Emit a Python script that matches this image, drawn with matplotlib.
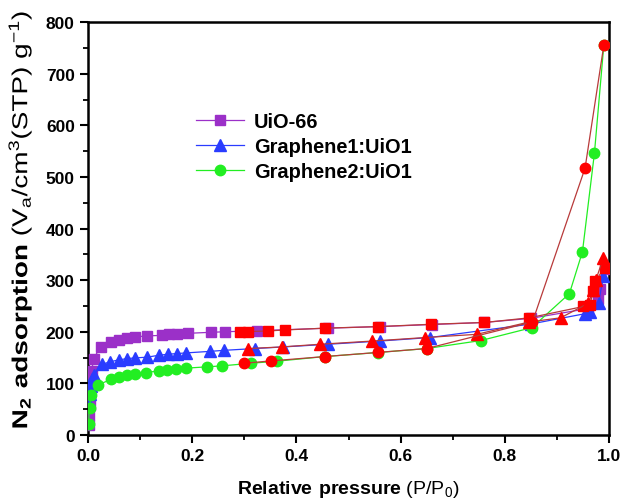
import matplotlib
matplotlib.use("Agg")
import matplotlib.pyplot as plt
from matplotlib.ticker import MultipleLocator
from matplotlib.textpath import TextPath
from matplotlib.patches import PathPatch
from matplotlib.font_manager import FontProperties
from matplotlib.transforms import Affine2D

plt.rcParams["font.family"] = "Liberation Sans"
plt.rcParams["mathtext.fontset"] = "custom"
plt.rcParams["mathtext.rm"] = "Liberation Sans"
plt.rcParams["mathtext.bf"] = "Liberation Sans:bold"

# UiO-66 isotherm (adsorption / desorption)
uio_ads_p = [0.001, 0.002, 0.003, 0.004, 0.005, 0.007, 0.011, 0.024, 0.045, 0.059,
             0.075, 0.091, 0.113, 0.142, 0.156, 0.171, 0.192, 0.237, 0.263, 0.324,
             0.461, 0.56, 0.66, 0.76, 0.85, 0.96, 0.979, 0.983, 0.996]
uio_ads_v = [20, 38, 58, 80, 102, 124, 148, 171, 181, 185,
             188, 190, 192, 193, 195, 196, 197, 199, 200, 202,
             207, 210, 214, 218, 226, 245, 263, 282, 321]
uio_des_p = [0.992, 0.973, 0.97, 0.963, 0.951, 0.847, 0.761, 0.658, 0.557, 0.455,
             0.378, 0.346, 0.308, 0.292]
uio_des_v = [324, 298, 279, 251, 249, 227, 218, 214.5, 210, 207,
             203.5, 201.6, 200.4, 199.7]

# Graphene1:UiO1
g1_ads_p = [0.001, 0.003, 0.005, 0.008, 0.012, 0.027, 0.043, 0.059, 0.075, 0.091,
            0.113, 0.137, 0.154, 0.171, 0.188, 0.234, 0.261, 0.32, 0.375, 0.461,
            0.56, 0.656, 0.85, 0.954, 0.963, 0.98, 0.989]
g1_ads_v = [60, 80, 95, 108, 117, 137, 142, 145.5, 148, 149.4,
            150.7, 154.6, 156.5, 157.8, 159, 162, 164, 167.5, 170.6, 175.8,
            182, 188.8, 215, 235, 239, 255, 308]
g1_des_p = [0.989, 0.975, 0.97, 0.96, 0.907, 0.847, 0.746, 0.647, 0.546, 0.445,
            0.372, 0.308]
g1_des_v = [343, 301, 280, 255, 227, 219, 195, 188.8, 182, 175.8,
            170.6, 167.5]

# Graphene2:UiO1
g2_ads_p = [0.001, 0.003, 0.005, 0.019, 0.045, 0.059, 0.075, 0.091, 0.111, 0.137,
            0.152, 0.168, 0.188, 0.228, 0.258, 0.313, 0.363, 0.455, 0.557, 0.65,
            0.754, 0.852, 0.924, 0.949, 0.972, 0.99]
g2_ads_v = [22, 52, 78, 97, 108, 112.7, 115.9, 117.8, 121, 124.3,
            125.6, 127.5, 129.5, 132, 134, 139, 143, 152, 159.8, 167.5,
            183, 208, 274, 355, 546, 755]
g2_des_p = [0.99, 0.954, 0.853, 0.65, 0.557, 0.455, 0.352, 0.3]
g2_des_v = [755, 517, 219, 167.5, 160, 152, 143.6, 139]

labels = ["UiO-66", "Graphene1:UiO1", "Graphene2:UiO1"]

fig = plt.figure(figsize=(6.21, 5.02), dpi=100)
ax = fig.add_axes([0.1417, 0.1315, 0.839, 0.8225])

des_line = "#b83a3a"
ax.plot(uio_ads_p, uio_ads_v, "-s", color="#9b30c8", ms=7, lw=0.9, label=labels[0], zorder=3)
ax.plot(g1_ads_p, g1_ads_v, "-^", color="#2a3cff", ms=8.5, lw=0.9, label=labels[1], zorder=3)
ax.plot(g2_ads_p, g2_ads_v, "-o", color="#22ee22", ms=7.5, lw=0.9, label=labels[2], zorder=3)

ax.plot(uio_des_p, uio_des_v, "-s", color=des_line, mfc="#ff0000", mec="#ff0000", ms=7, lw=0.9, zorder=4)
ax.plot(g1_des_p, g1_des_v, "-^", color=des_line, mfc="#ff0000", mec="#ff0000", ms=8.5, lw=0.9, zorder=4)
ax.plot(g2_des_p, g2_des_v, "-o", color=des_line, mfc="#ff0000", mec="#ff0000", ms=7.5, lw=0.9, zorder=4)

ax.set_xlim(0, 1.0)
ax.set_ylim(0, 800)
ax.xaxis.set_major_locator(MultipleLocator(0.2))
ax.xaxis.set_minor_locator(MultipleLocator(0.1))
ax.yaxis.set_major_locator(MultipleLocator(100))
ax.yaxis.set_minor_locator(MultipleLocator(50))
ax.xaxis.set_major_formatter(plt.FuncFormatter(lambda v, _: f"{v:.1f}"))

ax.tick_params(which="major", direction="out", length=6, width=1.5,
               labelsize=12.5, top=False, right=False)
ax.tick_params(which="minor", direction="out", length=3.5, width=1.3,
               top=False, right=False)
for lab in ax.get_xticklabels() + ax.get_yticklabels():
    lab.set_fontweight("bold")
for sp in ax.spines.values():
    sp.set_linewidth(1.8)

ax.set_xlabel(r"$\mathbf{Relative\ pressure}$ (P/P$_\mathrm{0}$)", fontsize=14, labelpad=11)

# y label: drawn as a path so it can be stretched along the full axis height
ylab = r"$\mathbf{N_2\ adsorption}$ (V$_\mathrm{a}$/cm$^\mathrm{3}$(STP) g$^\mathrm{-1}$)"
tp = TextPath((0, 0), ylab, prop=FontProperties(family="Liberation Sans", size=15.5))
bb = tp.get_extents()
k = fig.dpi / 72
length_px = 415
tr = (Affine2D()
      .translate(-(bb.x0 + bb.width / 2), -(bb.y0 + bb.height / 2))
      .scale(length_px / bb.width, k)
      .rotate_deg(90)
      .translate(20, 502 - 221))
fig.add_artist(PathPatch(tp, transform=tr, facecolor="black", edgecolor="none"))

ax.legend(loc="upper left", bbox_to_anchor=(0.173, 0.825), frameon=False,
          handlelength=2.4, handletextpad=0.5, labelspacing=0.3,
          prop={"weight": "bold", "size": 14.4})

fig.savefig("out.png", dpi=100)
